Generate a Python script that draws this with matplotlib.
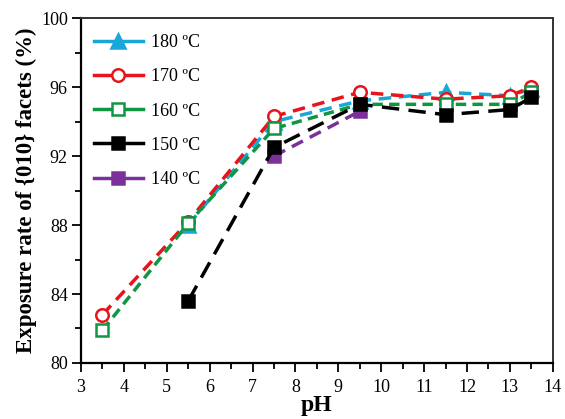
import matplotlib
matplotlib.use("Agg")
import matplotlib.pyplot as plt
from matplotlib.lines import Line2D

plt.rcParams['font.family'] = ['Liberation Serif', 'DejaVu Serif']

# data
ph_180 = [5.5, 7.5, 9.5, 11.5, 13, 13.5]
rate_180 = [88.0, 94.0, 95.2, 95.7, 95.5, 95.9]
ph_170 = [3.5, 5.5, 7.5, 9.5, 11.5, 13, 13.5]
rate_170 = [82.8, 88.2, 94.3, 95.7, 95.3, 95.5, 96.0]
ph_160 = [3.5, 5.5, 7.5, 9.5, 11.5, 13, 13.5]
rate_160 = [81.9, 88.1, 93.6, 95.0, 95.0, 95.0, 95.7]
ph_150 = [5.5, 7.5, 9.5, 11.5, 13, 13.5]
rate_150 = [83.6, 92.5, 95.0, 94.4, 94.7, 95.4]
ph_140 = [7.5, 9.5]
rate_140 = [92.0, 94.6]

labels = ["180 \u00baC", "170 \u00baC", "160 \u00baC", "150 \u00baC", "140 \u00baC"]
colors = ["#19a7d8", "#e8141b", "#109542", "#000000", "#7b309a"]
markers = ["^", "o", "s", "s", "s"]
fills = ["#19a7d8", "white", "white", "#000000", "#7b309a"]
dashes = [(3.6, 2.2), (3.6, 2.2), (3.0, 1.8), (5.0, 2.7), (3.6, 2.2)]

fig = plt.figure(figsize=(5.65, 4.19), dpi=100)
ax = fig.add_axes([0.1434, 0.1337, 0.835, 0.823])

series = [(ph_180, rate_180), (ph_170, rate_170), (ph_160, rate_160),
          (ph_150, rate_150), (ph_140, rate_140)]
order = [4, 0, 1, 2, 3]
for i in order:
    x, y = series[i]
    ax.plot(x, y, color=colors[i], lw=2.5, ls=(0, dashes[i]),
            marker=markers[i], ms=9 if markers[i] != "^" else 10,
            mfc=fills[i], mec=colors[i], mew=1.8, zorder=3 + order.index(i))

handles = [Line2D([], [], color=colors[i], lw=2.5, marker=markers[i],
                  ms=9 if markers[i] != "^" else 10, mfc=fills[i],
                  mec=colors[i], mew=1.8) for i in range(5)]
ax.legend(handles, labels, loc='upper left', frameon=False, fontsize=13,
          handlelength=2.75, labelspacing=0.95, borderaxespad=0.3,
          handletextpad=0.4, bbox_to_anchor=(0.0, 0.99))

ax.set_xlim(3, 14)
ax.set_ylim(80, 100)
ax.set_xticks(range(3, 15))
ax.set_xticks([v + 0.5 for v in range(3, 14)], minor=True)
ax.set_yticks([80, 84, 88, 92, 96, 100])
ax.set_yticks([82, 86, 90, 94, 98], minor=True)
ax.tick_params(which='major', direction='out', length=6.5, width=1.3, labelsize=13)
ax.tick_params(which='minor', direction='out', length=4, width=1.3)
ax.tick_params(axis='x', pad=5)
ax.tick_params(axis='y', pad=3)
for side in ['left', 'bottom']:
    ax.spines[side].set_linewidth(1.6)
for side in ['right', 'top']:
    ax.spines[side].set_linewidth(1.4)
    ax.spines[side].set_color('#333333')

ax.set_ylabel("Exposure rate of {010} facets (%)", fontsize=16.5, fontweight='bold', labelpad=3)
ax.set_xlabel("pH", fontsize=17, fontweight='bold', labelpad=-1)

fig.savefig("out.png", dpi=100)
